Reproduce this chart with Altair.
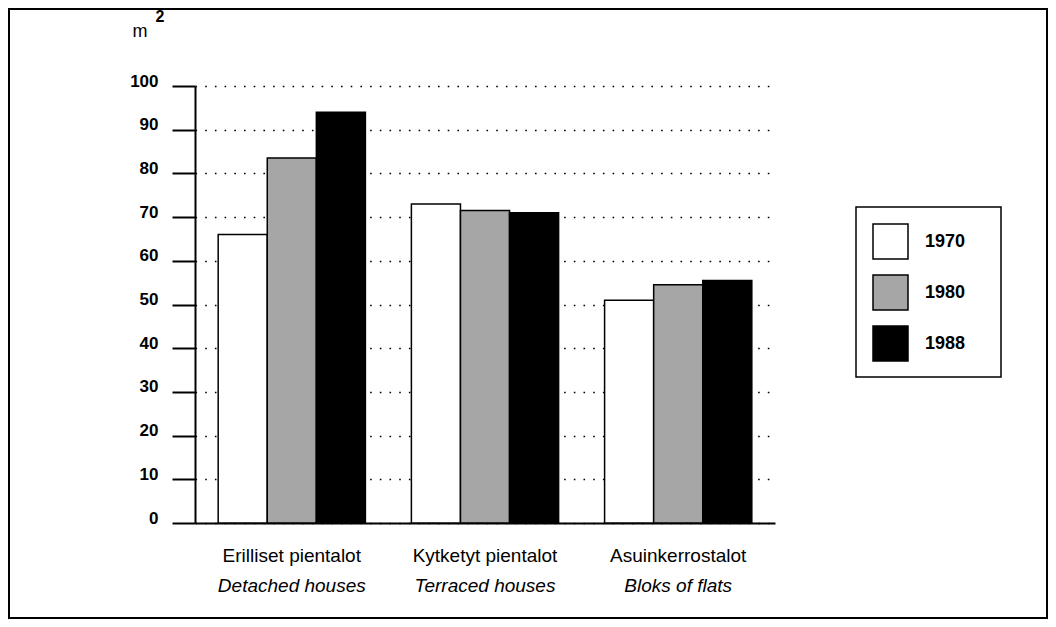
import altair as alt
import pandas as pd

categories = ["Erilliset pientalot", "Kytketyt pientalot", "Asuinkerrostalot"]
english = ["Detached houses", "Terraced houses", "Bloks of flats"]
years = ["1970", "1980", "1988"]
v1970 = [66, 73, 51]
v1980 = [83.5, 71.5, 54.5]
v1988 = [94, 71, 55.5]
y_ticks = [0, 10, 20, 30, 40, 50, 60, 70, 80, 90, 100]

rows = []
for yr, vals in zip(years, [v1970, v1980, v1988]):
    for c, v in zip(categories, vals):
        rows.append({"cat": c, "year": yr, "value": v})
df = pd.DataFrame(rows)
lab = pd.DataFrame({"cat": categories, "en": english})

FONT = "Liberation Sans"
W, H = 580, 437

xscale = alt.Scale(paddingInner=0.238, paddingOuter=0.12)

bars = alt.Chart(df).mark_bar(stroke="black", strokeWidth=1.5).encode(
    x=alt.X("cat:N", sort=categories, scale=xscale,
            axis=alt.Axis(labels=False, ticks=False, title=None, grid=False,
                          domainColor="black", domainWidth=2)),
    xOffset=alt.XOffset("year:N", sort=years),
    y=alt.Y("value:Q", scale=alt.Scale(domain=[0, 100], nice=False),
            axis=alt.Axis(values=y_ticks, title=None, grid=True,
                          gridColor="black", gridDash=[1.6, 8.1], gridWidth=1.6,
                          domainColor="black", domainWidth=2,
                          tickColor="black", tickWidth=2, tickSize=23,
                          labelPadding=14, labelFontSize=17, labelFont=FONT,
                          labelFontWeight="bold",
                          labelColor="black", labelBaseline="alphabetic")),
    color=alt.Color("year:N", sort=years,
                    scale=alt.Scale(domain=years, range=["white", "#a6a6a6", "black"]),
                    legend=alt.Legend(title=None, orient="none", legendX=661, legendY=121,
                                      symbolType="square", symbolSize=1225,
                                      symbolStrokeColor="black", symbolStrokeWidth=1.5,
                                      labelFontSize=18, labelFont=FONT, labelColor="black",
                                      labelFontWeight="bold",
                                      labelOffset=16, rowPadding=10, padding=16)),
)

fi_text = alt.Chart(lab).mark_text(font=FONT, fontSize=19, color="black",
                                   baseline="alphabetic").encode(
    x=alt.X("cat:N", sort=categories), y=alt.value(H + 39), text="cat:N")
en_text = alt.Chart(lab).mark_text(font=FONT, fontSize=19, fontStyle="italic",
                                   color="black", baseline="alphabetic").encode(
    x=alt.X("cat:N", sort=categories), y=alt.value(H + 69), text="en:N")

one = alt.Data(values=[{}])
m_text = alt.Chart(one).mark_text(text="m", font=FONT, fontSize=18, color="black",
                                  baseline="alphabetic").encode(
    x=alt.value(-55), y=alt.value(-49))
sq_text = alt.Chart(one).mark_text(text="2", font=FONT, fontSize=16, fontWeight="bold",
                                   color="black", baseline="alphabetic").encode(
    x=alt.value(-35), y=alt.value(-64))
frame = alt.Chart(one).mark_rect(fill="transparent", stroke="black", strokeWidth=2).encode(
    x=alt.value(-186), x2=alt.value(852), y=alt.value(-77), y2=alt.value(532))
legend_box = alt.Chart(one).mark_rect(fill="transparent", stroke="black", strokeWidth=1.5).encode(
    x=alt.value(661), x2=alt.value(806), y=alt.value(121), y2=alt.value(291))

chart = alt.layer(bars, fi_text, en_text, m_text, sq_text, frame, legend_box).properties(
    width=W, height=H,
    autosize=alt.AutoSizeParams(type="none"),
    padding={"left": 187, "top": 78, "right": 273, "bottom": 96},
).configure(background="white").configure_view(stroke=None)

chart.save("out.html", embed_options={"renderer": "svg", "actions": False})
